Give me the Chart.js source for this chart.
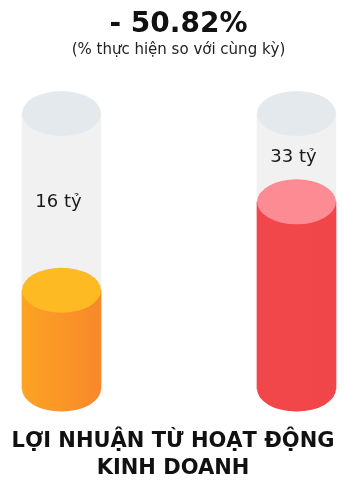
<!DOCTYPE html>
<html>
<head>
<meta charset="utf-8">
<script src="https://cdn.jsdelivr.net/npm/chart.js@4"></script>
<style>
  html, body { margin: 0; padding: 0; background: #fff; }
  #wrap { position: relative; width: 343px; height: 485px; overflow: hidden; font-family: "DejaVu Sans", sans-serif; color: #111; }
  #chart { position: absolute; left: 0; top: 0; }
  .txt { position: absolute; left: 0; width: 343px; text-align: center; white-space: nowrap; box-sizing: border-box; }
  #pct { top: 9px; padding-left: 14px; font-size: 28px; line-height: 28px; font-weight: bold; }
  #sub { top: 42px; padding-left: 14px; font-size: 15px; line-height: 15px; color: #222; }
  #caption { top: 427px; padding-left: 3px; font-size: 21px; line-height: 27px; font-weight: bold; }
</style>
</head>
<body>
<div id="wrap">
  <canvas id="chart" width="343" height="485"></canvas>
  <div class="txt" id="pct"></div>
  <div class="txt" id="sub"></div>
  <div class="txt" id="caption"></div>
</div>
<script>
// --- data ---
const categories = ['Thực hiện', 'Cùng kỳ'];
const values = [16, 33];          // tỷ đồng
const unit = 'tỷ';
const changeText = '- 50.82%';
const subText = '(% thực hiện so với cùng kỳ)';
const captionLines = ['LỢI NHUẬN TỪ HOẠT ĐỘNG', 'KINH DOANH'];
const trackMax = 50;              // top of the empty tube
const axisMin = -3;               // bottom of the tube

// --- colours ---
const bodyLeft  = ['#fda324', '#f2474a'];
const bodyRight = ['#f8882a', '#f0464a'];
const capColors = ['#fdba22', '#fd8b94'];
const trackBody = '#f1f1f1';
const trackCap  = '#e3e9ec';
const barW = 79;
const capRy = 22.5;

document.getElementById('pct').innerText = changeText;
document.getElementById('sub').innerText = subText;
document.getElementById('caption').innerHTML = captionLines.join('<br>');

function bodyFill(c) {
    const chart = c.chart;
    const i = c.dataIndex;
    const xs = chart.scales.x;
    if (!xs || !chart.chartArea) return bodyLeft[i];
    const cx = xs.getPixelForValue(i);
    const g = chart.ctx.createLinearGradient(cx - barW / 2, 0, cx + barW / 2, 0);
    g.addColorStop(0, bodyLeft[i]);
    g.addColorStop(1, bodyRight[i]);
    return g;
}

// ellipses on top/bottom of each bar so they look like tubes
const cylinderPlugin = {
    id: 'cylinder',
    afterDatasetDraw(chart, args) {
        const ctx = chart.ctx;
        const isTrack = args.index === 0;
        args.meta.data.forEach((bar, i) => {
            const w = bar.width / 2;
            ctx.save();
            // bottom ellipse
            ctx.beginPath();
            ctx.ellipse(bar.x, bar.base, w, capRy, 0, 0, Math.PI * 2);
            ctx.fillStyle = isTrack ? trackBody : bar.options.backgroundColor;
            ctx.fill();
            // top cap
            ctx.beginPath();
            ctx.ellipse(bar.x, bar.y, w, capRy, 0, 0, Math.PI * 2);
            ctx.fillStyle = isTrack ? trackCap : capColors[i];
            ctx.fill();
            ctx.restore();
        });
    },
    afterDraw(chart) {
        const ctx = chart.ctx;
        const yTop = chart.scales.y.getPixelForValue(trackMax);
        const meta = chart.getDatasetMeta(1);
        ctx.save();
        ctx.font = '18px "DejaVu Sans", sans-serif';
        ctx.fillStyle = '#1a1a1a';
        ctx.textAlign = 'center';
        ctx.textBaseline = 'middle';
        meta.data.forEach((bar, i) => {
            ctx.fillText(values[i] + ' ' + unit, bar.x - 3, (yTop + bar.y) / 2);
        });
        ctx.restore();
    }
};

const chart = new Chart(document.getElementById('chart'), {
    type: 'bar',
    data: {
        labels: categories,
        datasets: [
            {
                label: 'track',
                data: categories.map(() => [axisMin, trackMax]),
                backgroundColor: trackBody,
                barThickness: barW,
                grouped: false,
                order: 2,
                clip: false
            },
            {
                label: 'Lợi nhuận',
                data: values.map(v => [axisMin, v]),
                backgroundColor: bodyFill,
                barThickness: barW,
                grouped: false,
                order: 1,
                clip: false
            }
        ]
    },
    options: {
        responsive: false,
        animation: false,
        layout: { padding: { top: 113.5, bottom: 96, left: 61.5, right: 46.5 } },
        plugins: { legend: { display: false }, tooltip: { enabled: false } },
        scales: {
            x: { display: false, offset: false },
            y: { display: false, min: axisMin, max: trackMax }
        }
    },
    plugins: [cylinderPlugin]
});
</script>
</body>
</html>
